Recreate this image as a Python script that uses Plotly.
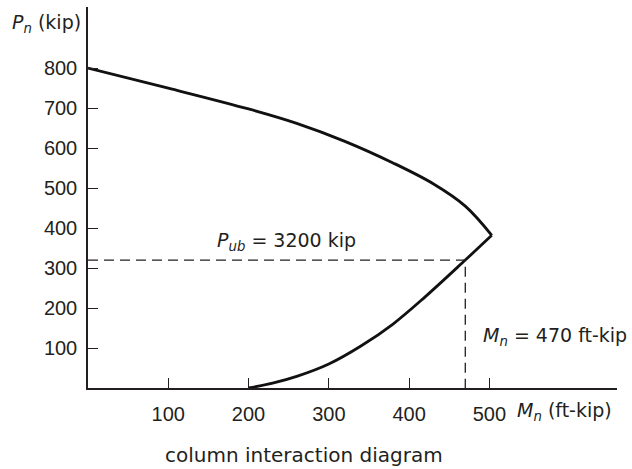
import plotly.graph_objects as go

# Interaction curve: nominal moment M_n (ft-kip) vs axial load P_n (kip)
upper_m = [0, 100, 200, 260, 320, 380, 430, 470, 503]
upper_p = [800, 750, 698, 662, 617, 563, 511, 455, 382]
lower_m = [200, 230, 260, 300, 340, 380, 420, 470, 503]
lower_p = [0, 12, 29, 60, 105, 160, 228, 320, 382]

# Balanced point read-off
p_ub = 320
m_n = 470

x_ticks = [100, 200, 300, 400, 500]
y_ticks = [100, 200, 300, 400, 500, 600, 700, 800]

NUM_FONT = "Liberation Sans, Arial, Helvetica, sans-serif"
TXT_FONT = "DejaVu Sans, Verdana, sans-serif"
INK = "#231f20"

fig = go.Figure()

for mx, py in ((upper_m, upper_p), (lower_m, lower_p)):
    fig.add_trace(go.Scatter(
        x=mx, y=py, mode="lines",
        line=dict(color="#111111", width=2.8, shape="spline", smoothing=1.0),
        hoverinfo="skip", showlegend=False, cliponaxis=False,
    ))

# dashed read-off lines
fig.add_trace(go.Scatter(
    x=[0, m_n, m_n], y=[p_ub, p_ub, 0], mode="lines",
    line=dict(color=INK, width=1.3, dash="10px,6px"),
    hoverinfo="skip", showlegend=False, cliponaxis=False,
))

axis_common = dict(
    showline=True, linecolor=INK, linewidth=1.5,
    showgrid=False, zeroline=False,
    ticks="inside", ticklen=10, tickwidth=1.3, tickcolor=INK,
    tickfont=dict(family=NUM_FONT, size=20, color=INK),
)

fig.update_xaxes(range=[0, 659], tickvals=x_ticks,
                 ticktext=[str(v) for v in x_ticks],
                 ticklabelstandoff=7, **axis_common)
fig.update_yaxes(range=[0, 953], tickvals=y_ticks,
                 ticktext=[str(v) for v in y_ticks],
                 ticklabelstandoff=5, **axis_common)

L, R, T, B = 88, 15, 7, 81
W, H = 632, 469
pw, ph = W - L - R, H - T - B


def px(xp):
    return (xp - L) / pw


def py_(yp):
    return (H - B - yp) / ph


txt = dict(family=TXT_FONT, size=19, color=INK)
annotations = [
    dict(x=px(10), y=py_(23), xanchor="left", yanchor="middle",
         text="<i>P</i><sub><i>n</i></sub> (kip)"),
    dict(x=px(515), y=py_(412), xanchor="left", yanchor="middle",
         text="<i>M</i><sub><i>n</i></sub> (ft-kip)"),
    dict(x=px(358), y=py_(241), xanchor="right", yanchor="middle",
         text="<i>P</i><sub><i>ub</i></sub> = 3200 kip"),
    dict(x=px(481), y=py_(336), xanchor="left", yanchor="middle",
         text="<i>M</i><sub><i>n</i></sub> = 470 ft-kip"),
    dict(x=px(304), y=py_(455), xanchor="center", yanchor="middle",
         text="column interaction diagram"),
]
for a in annotations:
    a.update(xref="paper", yref="paper", showarrow=False, font=dict(txt))
annotations[-1]["font"]["size"] = 20

fig.update_layout(
    width=W, height=H,
    margin=dict(l=L, r=R, t=T, b=B),
    paper_bgcolor="white", plot_bgcolor="white",
    annotations=annotations,
)

fig.write_html("out.html")
